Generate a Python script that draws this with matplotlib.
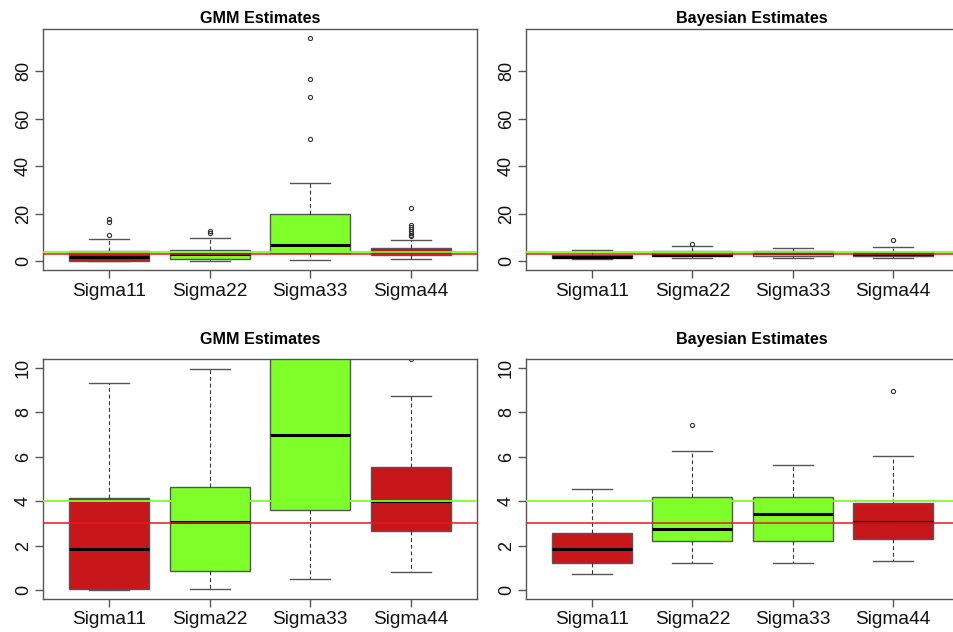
import numpy as np
from matplotlib import pyplot as plt

# 数据：箱线图统计量
labels = ['Sigma11', 'Sigma22', 'Sigma33', 'Sigma44']
box_colors = ['#C8171B', '#7FFF2A', '#7FFF2A', '#C8171B']

gmm_lo = [0.0, 0.06, 0.52, 0.81]
gmm_q1 = [0.07, 0.88, 3.6, 2.65]
gmm_med = [1.84, 3.08, 6.97, 4.0]
gmm_q3 = [4.13, 4.63, 19.7, 5.53]
gmm_hi = [9.33, 9.93, 32.9, 8.73]
gmm_fliers = [[10.9, 16.6, 17.8],
              [11.8, 12.5],
              [51.5, 69.2, 76.9, 94.2],
              [10.4, 11.0, 11.8, 12.6, 13.4, 14.2, 15.4, 22.2]]

bay_lo = [0.73, 1.2, 1.2, 1.3]
bay_q1 = [1.23, 2.23, 2.23, 2.29]
bay_med = [1.87, 2.75, 3.44, 3.08]
bay_q3 = [2.57, 4.17, 4.2, 3.92]
bay_hi = [4.57, 6.26, 5.65, 6.02]
bay_fliers = [[], [7.41], [], [8.98]]

true_red = 3
true_green = 4

W, H = 954, 632


def stats(lo, q1, med, q3, hi, fliers):
    out = []
    for i in range(len(labels)):
        out.append({'whislo': lo[i], 'q1': q1[i], 'med': med[i], 'q3': q3[i],
                    'whishi': hi[i], 'fliers': fliers[i], 'label': labels[i]})
    return out


def panel(rect, title, title_x, title_pad, st, ylim, yticks):
    l, t, r, b = rect
    ax = fig.add_axes([l / W, 1 - b / H, (r - l) / W, (b - t) / H])
    bp = ax.bxp(st, positions=[1, 2, 3, 4], widths=0.8, capwidths=0.4,
                patch_artist=True,
                boxprops=dict(edgecolor='#555555', linewidth=1.0),
                medianprops=dict(color='black', linewidth=2.2),
                whiskerprops=dict(color='#333333', linewidth=0.8, linestyle=(0, (3.5, 2.5))),
                capprops=dict(color='#555555', linewidth=1.0),
                flierprops=dict(marker='o', markersize=3, markerfacecolor='none',
                                markeredgecolor='#333333', markeredgewidth=0.8))
    for patch, c in zip(bp['boxes'], box_colors):
        patch.set_facecolor(c)
    # 真值参考线
    ax.axhline(true_red, color='#E8191E', linewidth=1.1, zorder=5)
    ax.axhline(true_green, color='#7FFF2A', linewidth=1.3, zorder=5)
    ax.set_xlim(0.34, 4.66)
    ax.set_ylim(*ylim)
    ax.set_yticks(yticks)
    ax.set_xticks([1, 2, 3, 4])
    ax.set_xticklabels(labels, fontsize=13.8, color='#111111')
    ax.set_yticklabels([str(v) for v in yticks], fontsize=13, color='#111111',
                       rotation=90, va='center')
    ax.tick_params(axis='both', length=6, width=1, color='#555555')
    ax.tick_params(axis='x', pad=3)
    ax.tick_params(axis='y', pad=2)
    for s in ax.spines.values():
        s.set_color('#555555')
        s.set_linewidth(1)
    ax.annotate(title, xy=(title_x, 1), xycoords='axes fraction',
                xytext=(0, title_pad), textcoords='offset points',
                ha='center', va='baseline', fontsize=11.6, fontweight='bold')
    return ax


plt.rcParams['font.family'] = ['Liberation Sans', 'DejaVu Sans']
fig = plt.figure(figsize=(W / 100, H / 100), dpi=100)

gmm = stats(gmm_lo, gmm_q1, gmm_med, gmm_q3, gmm_hi, gmm_fliers)
bay = stats(bay_lo, bay_q1, bay_med, bay_q3, bay_hi, bay_fliers)

big = (-3.76, 97.9)
small = (-0.4, 10.4)

panel((43, 29, 477, 270), 'GMM Estimates', 0.5, 4.5, gmm, big, [0, 20, 40, 60, 80])
panel((526, 29, 959, 270), 'Bayesian Estimates', 0.522, 4.5, bay, big, [0, 20, 40, 60, 80])
panel((43, 359, 477, 599), 'GMM Estimates', 0.5, 11, gmm, small, [0, 2, 4, 6, 8, 10])
panel((526, 359, 959, 599), 'Bayesian Estimates', 0.522, 11, bay, small, [0, 2, 4, 6, 8, 10])

plt.savefig('out.png', dpi=100)
